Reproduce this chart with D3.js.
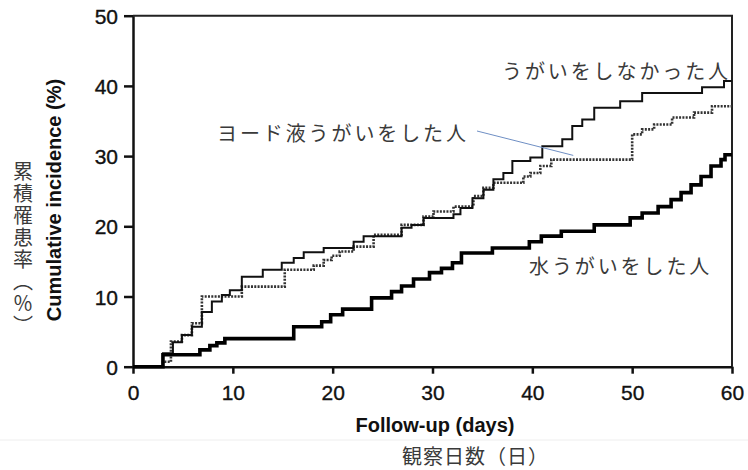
<!DOCTYPE html>
<html>
<head>
<meta charset="utf-8">
<script src="https://cdn.jsdelivr.net/npm/d3@7"></script>
<style>
  html, body { margin: 0; padding: 0; background: #fff; }
  svg { display: block; }
  .axis text { font-family: "Liberation Sans", Arial, sans-serif; font-size: 21px; fill: #111; stroke: #111; stroke-width: 0.35px; }
  .axis path, .axis line { stroke: #111; }
  .title { font-family: "Liberation Sans", Arial, sans-serif; font-size: 20px; font-weight: bold; fill: #111; }
  .jp { font-family: "Noto Sans CJK JP", sans-serif; fill: #3a3a3a; }
</style>
</head>
<body>
<div id="chart"></div>
<script>
// ticks
const xTicks = [0, 10, 20, 30, 40, 50, 60];
const yTicks = [0, 10, 20, 30, 40, 50];

// no gargling (thin solid)
const noneDays = [3.0, 4.0, 4.9, 5.9, 6.9, 7.9, 8.9, 9.7, 10.9, 13.0, 14.9, 16.1, 17.1, 19.1, 22.1, 23.1, 26.9, 27.9, 29.1, 32.1, 32.8, 34.0, 35.1, 36.1, 37.1, 38.0, 39.8, 41.0, 43.0, 44.0, 45.0, 46.2, 48.8, 51.0, 57.0, 59.2];
const nonePct = [1.9, 3.5, 4.5, 5.7, 7.8, 9.3, 10.2, 10.9, 12.8, 13.8, 14.8, 15.5, 16.3, 16.9, 17.8, 18.6, 19.8, 20.2, 21.2, 21.7, 22.6, 24.0, 25.2, 26.7, 27.6, 29.3, 29.8, 31.4, 32.4, 34.3, 35.2, 36.9, 37.8, 39.0, 39.8, 40.7];

// iodine gargling (dotted)
const iodineDays = [3.0, 3.8, 4.9, 5.9, 6.9, 10.9, 15.2, 18.1, 19.1, 19.9, 20.7, 22.1, 24.1, 26.9, 29.1, 30.1, 32.1, 34.1, 35.1, 36.1, 39.1, 39.8, 40.8, 41.9, 50.0, 51.0, 52.2, 54.0, 56.2, 58.0];
const iodinePct = [0.7, 3.6, 4.5, 6.2, 10.0, 11.4, 13.8, 14.4, 15.2, 15.8, 16.4, 17.1, 18.8, 20.2, 21.4, 22.1, 22.8, 24.3, 25.5, 26.2, 27.1, 27.6, 28.6, 29.5, 33.1, 33.8, 34.5, 35.5, 36.2, 37.1];

// water gargling (thick)
const waterDays = [3.0, 6.7, 7.7, 8.4, 9.2, 16.1, 18.9, 19.8, 21.0, 23.9, 25.9, 26.9, 28.1, 29.7, 30.9, 32.0, 32.9, 36.0, 39.7, 40.9, 42.9, 46.2, 49.8, 51.0, 52.6, 53.9, 54.9, 55.9, 56.9, 57.9, 58.9, 59.3];
const waterPct = [1.7, 2.4, 3.0, 3.4, 4.0, 5.7, 6.4, 7.4, 8.2, 9.8, 10.7, 11.5, 12.5, 13.4, 14.0, 14.8, 16.2, 16.9, 17.8, 18.6, 19.3, 20.2, 21.2, 21.9, 22.8, 23.8, 24.8, 25.9, 27.1, 28.6, 29.5, 30.2];

const labels = ["うがいをしなかった人", "ヨード液うがいをした人", "水うがいをした人"];
const yTitleJp = "累積罹患率（％）";
const xTitleJp = "観察日数（日）";

const W = 748, H = 470;
const svg = d3.select("#chart").append("svg")
    .attr("width", W)
    .attr("height", H);

svg.append("rect").attr("width", W).attr("height", H).attr("fill", "#fff");

const x = d3.scaleLinear().domain([0, 60]).range([133, 732]);
const y = d3.scaleLinear().domain([0, 50]).range([366.7, 15.7]);

// build step series, running out to day 60
function series(days, pct) {
    const pts = [{d: 0, p: 0}];
    days.forEach((d, i) => pts.push({d: d, p: pct[i]}));
    pts.push({d: 60, p: pct[pct.length - 1]});
    return pts;
}

const line = d3.line()
    .x(d => x(d.d))
    .y(d => y(d.p))
    .curve(d3.curveStepAfter);

// frame top + right
svg.append("path")
    .attr("d", `M${x(0)},${y(50)}H${x(60)}V${y(0)}`)
    .attr("fill", "none")
    .attr("stroke", "#222")
    .attr("stroke-width", 2);

// axes
svg.append("g")
    .attr("class", "axis")
    .attr("transform", `translate(0,${y(0)})`)
    .call(d3.axisBottom(x).tickValues(xTicks).tickSize(7).tickSizeOuter(0).tickPadding(11))
    .call(g => g.selectAll("path, line").attr("stroke-width", 2.5));

svg.append("g")
    .attr("class", "axis")
    .attr("transform", `translate(${x(0)},0)`)
    .call(d3.axisLeft(y).tickValues(yTicks).tickSize(9).tickSizeOuter(0).tickPadding(6))
    .call(g => g.selectAll("path, line").attr("stroke-width", 2.5))
    .call(g => g.selectAll("text").attr("dy", "0.36em"));

// curves
svg.append("path")
    .datum(series(iodineDays, iodinePct))
    .attr("d", line)
    .attr("fill", "none")
    .attr("stroke", "#333")
    .attr("stroke-width", 2.6)
    .attr("stroke-dasharray", "2,1.3");

svg.append("path")
    .datum(series(noneDays, nonePct))
    .attr("d", line)
    .attr("fill", "none")
    .attr("stroke", "#111")
    .attr("stroke-width", 2);

svg.append("path")
    .datum(series(waterDays, waterPct))
    .attr("d", line)
    .attr("fill", "none")
    .attr("stroke", "#000")
    .attr("stroke-width", 3.6);

// axis titles
svg.append("text")
    .attr("class", "title")
    .attr("x", 435)
    .attr("y", 432)
    .attr("text-anchor", "middle")
    .text("Follow-up (days)");

svg.append("text")
    .attr("class", "title")
    .attr("transform", "translate(61,200) rotate(-90)")
    .attr("text-anchor", "middle")
    .text("Cumulative incidence (%)");

// japanese x title
svg.append("text")
    .attr("class", "jp")
    .attr("x", 402)
    .attr("y", 455)
    .attr("dominant-baseline", "central")
    .attr("font-size", 20)
    .attr("letter-spacing", 1)
    .text(xTitleJp);

// japanese y title, vertical writing
svg.append("text")
    .attr("class", "jp")
    .attr("x", 23)
    .attr("y", 161)
    .attr("font-size", 20)
    .attr("letter-spacing", 2)
    .style("writing-mode", "vertical-rl")
    .text(yTitleJp);

// series labels
const lab = [
    {t: labels[0], x: 502, y: 70},
    {t: labels[1], x: 217, y: 132},
    {t: labels[2], x: 529, y: 265}
];
svg.selectAll(".lab")
    .data(lab)
    .join("text")
    .attr("class", "jp lab")
    .attr("x", d => d.x)
    .attr("y", d => d.y)
    .attr("font-size", 20)
    .attr("letter-spacing", 2.9)
    .attr("dominant-baseline", "central")
    .text(d => d.t);

// leader line to iodine curve
svg.append("line")
    .attr("x1", 477).attr("y1", 131)
    .attr("x2", x(44.1)).attr("y2", y(30.1))
    .attr("stroke", "#6f8fc4")
    .attr("stroke-width", 1);

// faint separator under chart
svg.append("line")
    .attr("x1", 0).attr("x2", W)
    .attr("y1", 440).attr("y2", 440)
    .attr("stroke", "#eeeeee")
    .attr("stroke-width", 1);
</script>
</body>
</html>
